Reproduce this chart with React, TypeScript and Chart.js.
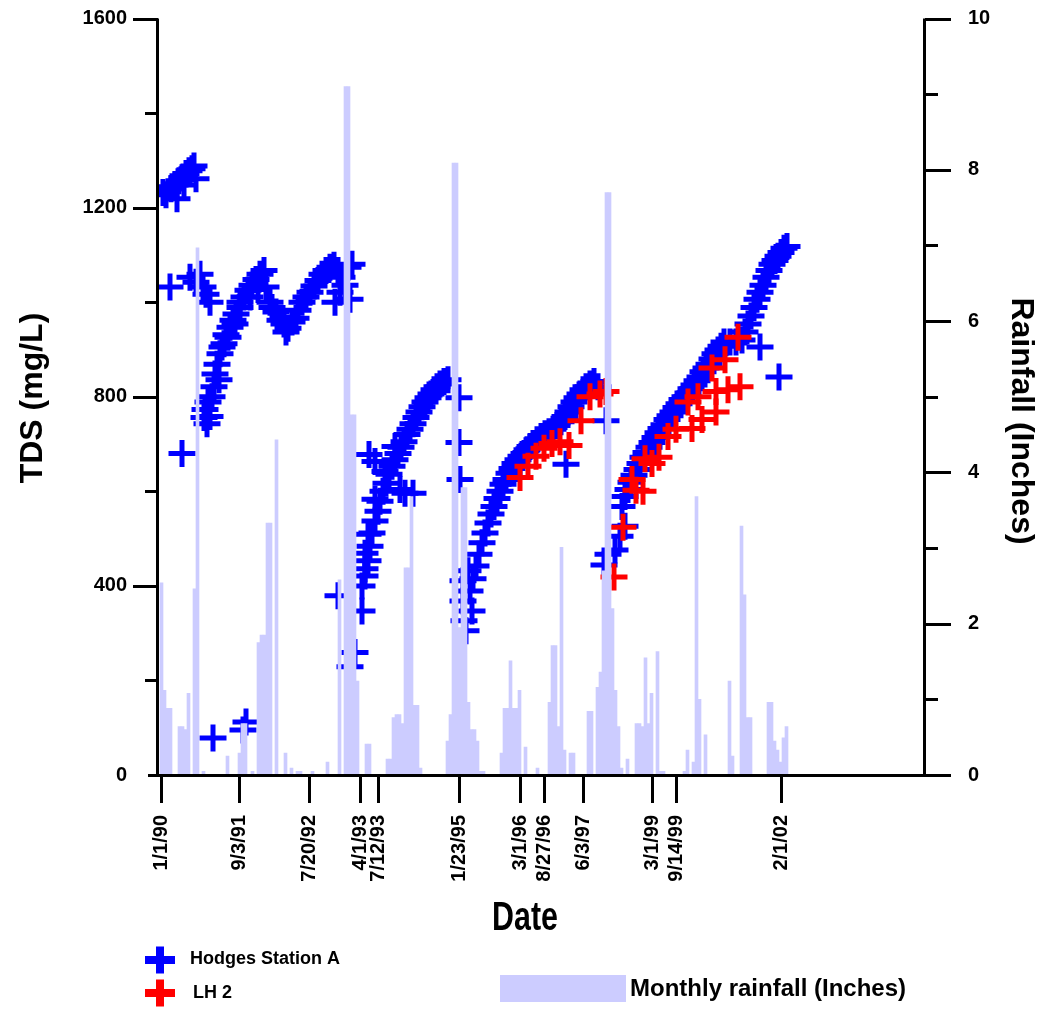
import React, { useEffect, useRef } from 'react';
import { Chart, registerables } from 'chart.js';

Chart.register(...registerables);

// X axis: position along the date axis (plot-width units, 0 = left of plot)
const xTickPos = [1, 79, 149, 200, 218, 299, 360, 384, 423, 492, 516, 621];
const xTickLabels = ['1/1/90', '9/3/91', '7/20/92', '4/1/93', '7/12/93', '1/23/95', '3/1/96', '8/27/96', '6/3/97', '3/1/99', '9/14/99', '2/1/02'];

const tdsTicks = [0, 400, 800, 1200, 1600];
const tdsMinorTicks = [0, 200, 600, 1000, 1400];
const rainTicks = [0, 2, 4, 6, 8, 10];
const rainMinorTicks = [1, 3, 5, 7, 9];

// Monthly rainfall (inches)
const rainX = [1.5, 4.5, 7.5, 10.5, 19.5, 22.5, 25.5, 28.5, 34.5, 37.5, 43.5, 67.5, 79.5, 82.5, 85.5, 92.5, 98.5, 101.5, 104.5, 107.5, 110.5, 116.5, 125.5, 131.5, 137.5, 140.5, 152.5, 167.5, 179.5, 185.5, 188.5, 191.5, 194.5, 197.5, 206.5, 209.5, 227.5, 230.5, 233.5, 236.5, 239.5, 242.5, 245.5, 248.5, 251.5, 254.5, 257.5, 260.5, 287.5, 290.5, 293.5, 296.5, 299.5, 302.5, 305.5, 308.5, 311.5, 314.5, 317.5, 320.5, 323.5, 341.5, 344.5, 347.5, 350.5, 353.5, 356.5, 359.5, 365.5, 377.5, 389.5, 392.5, 395.5, 398.5, 401.5, 404.5, 410.5, 413.5, 428.5, 431.5, 437.5, 440.5, 443.5, 446.5, 449.5, 452.5, 455.5, 458.5, 461.5, 467.5, 476.5, 479.5, 482.5, 485.5, 488.5, 491.5, 497.5, 500.5, 503.5, 524.5, 527.5, 533.5, 536.5, 539.5, 545.5, 569.5, 572.5, 581.5, 584.5, 587.5, 590.5, 608.5, 611.5, 614.5, 617.5, 620.5, 623.5, 626.5];
const rainIn = [2.54, 1.12, 0.88, 0.88, 0.64, 0.64, 0.6, 1.08, 2.46, 6.97, 0.05, 0.25, 0.29, 0.68, 0.68, 0.05, 1.75, 1.85, 1.85, 3.33, 3.33, 4.43, 0.29, 0.09, 0.05, 0.05, 0.05, 0.17, 2.58, 9.1, 9.1, 4.76, 4.76, 1.24, 0.41, 0.41, 0.21, 0.21, 0.76, 0.8, 0.8, 0.68, 2.74, 2.74, 3.68, 0.92, 0.92, 0.09, 0.45, 0.8, 8.09, 8.09, 1.95, 3.8, 3.8, 0.96, 0.6, 0.6, 0.45, 0.05, 0.05, 0.29, 0.88, 0.88, 1.51, 0.88, 0.88, 1.12, 0.37, 0.09, 0.96, 1.71, 1.71, 0.64, 3.01, 0.33, 0.29, 0.29, 0.84, 0.84, 1.16, 1.36, 2.7, 7.7, 7.7, 2.2, 1.12, 0.64, 0.09, 0.21, 0.68, 0.68, 0.64, 1.55, 0.68, 1.08, 1.63, 0.05, 0.05, 0.05, 0.33, 0.17, 3.68, 1.0, 0.53, 1.24, 0.25, 3.29, 2.38, 0.76, 0.76, 0.96, 0.96, 0.45, 0.33, 0.17, 0.49, 0.64];

// Hodges Station A TDS (mg/L)
const hodgesX = [3, 6, 11, 12, 15, 17, 19, 22, 24, 26, 29, 32, 34, 36,
  10, 30, 36, 40, 43, 46, 50, 22, 44, 45, 47, 48, 50, 52, 54, 55, 57, 59, 60, 62, 64, 66, 68, 70, 73, 75, 76, 80, 80, 84, 88, 90, 92, 96, 98, 100, 104, 106, 110, 112, 116, 120, 124, 126, 128, 132, 136, 138, 142, 146, 150, 154, 158, 162, 166, 170, 174, 175, 178, 180, 182, 185, 188, 190, 192,
  53, 83, 86,
  178, 190, 195, 202, 205, 209, 215,
  202, 205, 205, 208, 208, 210, 212, 215, 215, 218, 220, 223, 225, 226, 229, 232, 235, 235, 238, 240, 241, 244, 245, 247, 250, 253, 253, 256, 259, 262, 265, 268, 271, 274, 277, 280, 284, 288, 299, 299, 300,
  303, 303, 304, 306, 308, 310, 312, 313, 316, 319, 322, 325, 328, 331, 334, 337, 340, 343, 346, 349, 352, 355, 358, 361, 364, 367, 370,
  373, 377, 381, 385, 389, 393, 397, 401, 405, 406, 408, 411, 414, 417, 420, 423, 426, 430, 434, 438, 446,
  444, 448, 455, 460, 462, 465, 465, 468, 471, 474, 477, 480, 483, 486, 489, 492, 495, 498, 501, 504, 507, 510, 513, 516, 519, 522, 525, 528, 531, 534, 537, 540, 543, 546, 549, 552, 555, 558, 561, 564, 570, 576, 582, 585, 588, 591, 594, 597, 600, 600, 603, 606, 609, 612, 615, 618, 619, 621, 624, 627];
const hodgesTDS = [1232, 1227, 1240, 1244, 1248, 1219, 1257, 1263, 1248, 1272, 1278, 1282, 1288, 1261,
  1032, 1053, 1042, 1059, 1032, 1017, 1000, 680, 756, 773, 743, 789, 758, 800, 821, 848, 869, 836, 891, 905, 912, 931, 926, 947, 962, 954, 975, 989, 1000, 1011, 1025, 1011, 1036, 1048, 1027, 1059, 1067, 1032, 1000, 989, 979, 962, 954, 937, 945, 958, 966, 983, 1000, 1011, 1021, 1034, 1046, 1059, 1067, 1074, 1078, 1000, 1067, 1021, 1053, 1036, 1074, 1006, 1080,
  78, 95, 112,
  379, 229, 259, 347, 436, 678, 663,
  400, 421, 469, 453, 509, 484, 512, 537, 583, 558, 579, 600, 642, 617, 636, 653, 667, 695, 680, 604, 693, 705, 596, 720, 731, 743, 596, 756, 768, 779, 789, 798, 806, 815, 821, 827, 832, 836, 798, 703, 625,
  368, 411, 326, 305, 432, 389, 347, 415, 442, 467, 491, 512, 533, 552, 568, 585, 600, 615, 625, 638, 648, 659, 667, 674, 680, 688, 695,
  701, 709, 716, 722, 726, 731, 739, 747, 758, 657, 768, 779, 789, 798, 806, 815, 821, 827, 832, 821, 749,
  444, 467, 476, 505, 568, 526, 589, 604, 619, 634, 646, 659, 672, 682, 693, 703, 714, 724, 733, 741, 752, 760, 768, 777, 785, 794, 800, 808, 817, 825, 834, 842, 853, 861, 869, 880, 891, 899, 907, 916, 916, 916, 920, 937, 954, 971, 989, 1006, 905, 1021, 1036, 1053, 1067, 1080, 1088, 1097, 842, 1105, 1114, 1118];

// LH 2 TDS (mg/L)
const lh2X = [360, 368, 376, 384, 392, 400, 409, 421, 430, 440, 446, 454, 463, 472, 476, 483, 485, 492, 499, 508, 516, 528, 532, 538, 542, 552, 556, 556, 565, 568, 578, 580];
const lh2TDS = [629, 653, 674, 691, 701, 705, 697, 749, 800, 806, 811, 419, 524, 625, 602, 600, 669, 659, 672, 716, 731, 789, 733, 800, 752, 861, 768, 811, 878, 815, 926, 821];

const FONT = "'Liberation Sans', Arial, Helvetica, sans-serif";
const BLUE = '#0000ff';
const RED = '#ff0000';
const RAIN = '#ccccff';

const decorPlugin = {
  id: 'decor',
  afterDraw(chart: any) {
    const ctx = chart.ctx as CanvasRenderingContext2D;
    const { left, right, top, bottom } = chart.chartArea;
    const xs = chart.scales.x;
    const ys = chart.scales.y;
    const y1 = chart.scales.y1;
    ctx.save();
    ctx.strokeStyle = '#000';
    ctx.lineWidth = 3;
    ctx.lineCap = 'butt';
    ctx.beginPath();
    // axis lines
    ctx.moveTo(left - 0.5, top);
    ctx.lineTo(left - 0.5, bottom + 1);
    ctx.moveTo(left - 2, bottom + 0.5);
    ctx.lineTo(right + 1, bottom + 0.5);
    ctx.moveTo(right - 0.5, top);
    ctx.lineTo(right - 0.5, bottom + 1);
    // left ticks
    tdsTicks.forEach((v) => {
      const p = Math.round(ys.getPixelForValue(v)) + 0.5;
      if (v === 0) return;
      ctx.moveTo(left - 25, p);
      ctx.lineTo(left, p);
    });
    tdsMinorTicks.forEach((v) => {
      const p = Math.round(ys.getPixelForValue(v)) + 0.5;
      ctx.moveTo(left - (v === 0 ? 10 : 13), p);
      ctx.lineTo(left, p);
    });
    // right ticks
    rainTicks.forEach((v) => {
      const p = Math.round(y1.getPixelForValue(v)) + 0.5;
      ctx.moveTo(right, p);
      ctx.lineTo(right + 26, p);
    });
    rainMinorTicks.forEach((v) => {
      const p = Math.round(y1.getPixelForValue(v)) + 0.5;
      ctx.moveTo(right, p);
      ctx.lineTo(right + 13, p);
    });
    // x ticks
    xTickPos.forEach((v) => {
      const p = Math.round(xs.getPixelForValue(v)) + 0.5;
      ctx.moveTo(p, bottom);
      ctx.lineTo(p, bottom + 28);
    });
    ctx.stroke();

    // axis titles
    ctx.fillStyle = '#000';
    ctx.textAlign = 'center';
    ctx.textBaseline = 'middle';
    ctx.font = `bold 32px ${FONT}`;
    ctx.save();
    ctx.translate(33, 398);
    ctx.rotate(-Math.PI / 2);
    ctx.fillText('TDS (mg/L)', 0, 0);
    ctx.restore();
    ctx.save();
    ctx.translate(1021, 421);
    ctx.rotate(Math.PI / 2);
    ctx.fillText('Rainfall (Inches)', 0, 0);
    ctx.restore();
    ctx.save();
    ctx.translate(525, 919);
    ctx.scale(0.74, 1);
    ctx.font = `bold 41px ${FONT}`;
    ctx.fillText('Date', 0, 0);
    ctx.restore();

    // legend
    const cross = (cx: number, cy: number, color: string) => {
      ctx.strokeStyle = color;
      ctx.lineWidth = 8;
      ctx.beginPath();
      ctx.moveTo(cx - 15, cy);
      ctx.lineTo(cx + 15, cy);
      ctx.moveTo(cx, cy - 13.5);
      ctx.lineTo(cx, cy + 13.5);
      ctx.stroke();
    };
    cross(160, 960, BLUE);
    cross(160, 993, RED);
    ctx.textAlign = 'left';
    ctx.font = `bold 18px ${FONT}`;
    ctx.fillText('Hodges Station A', 190, 959);
    ctx.fillText('LH 2', 193, 993);
    ctx.fillStyle = RAIN;
    ctx.fillRect(500, 975, 126, 27);
    ctx.fillStyle = '#000';
    ctx.font = `bold 24px ${FONT}`;
    ctx.fillText('Monthly rainfall (Inches)', 630, 989);
    ctx.restore();
  },
};

const hiddenGrid = (len: number) => ({
  display: true,
  drawOnChartArea: false,
  drawTicks: true,
  tickLength: len,
  color: 'rgba(0,0,0,0)',
});

export default function App() {
  const ref = useRef<HTMLCanvasElement>(null);
  useEffect(() => {
    if (!ref.current) return;
    const tickFont = { family: FONT, size: 20, weight: 'bold' as const };
    const chart = new Chart(ref.current, {
      type: 'scatter',
      data: {
        datasets: [
          {
            type: 'bar',
            label: 'Monthly rainfall (Inches)',
            data: rainX.map((x, i) => ({ x, y: rainIn[i] })),
            backgroundColor: RAIN,
            borderWidth: 0,
            barThickness: 3,
            grouped: false,
            xAxisID: 'x',
            yAxisID: 'y1',
            order: 0,
          } as any,
          {
            type: 'scatter',
            label: 'LH 2',
            data: lh2X.map((x, i) => ({ x, y: lh2TDS[i] })),
            pointStyle: 'cross',
            pointRadius: 13.5,
            pointBorderWidth: 5,
            pointBorderColor: RED,
            pointBackgroundColor: RED,
            xAxisID: 'x',
            yAxisID: 'y',
            order: 1,
          },
          {
            type: 'scatter',
            label: 'Hodges Station A',
            data: hodgesX.map((x, i) => ({ x, y: hodgesTDS[i] })),
            pointStyle: 'cross',
            pointRadius: 13.5,
            pointBorderWidth: 5,
            pointBorderColor: BLUE,
            pointBackgroundColor: BLUE,
            xAxisID: 'x',
            yAxisID: 'y',
            order: 2,
          },
        ],
      },
      options: {
        responsive: false,
        animation: false,
        events: [],
        layout: { padding: { top: 15, left: 0, right: 0, bottom: 0 } },
        plugins: { legend: { display: false }, tooltip: { enabled: false } },
        scales: {
          x: {
            type: 'linear',
            position: 'bottom',
            offset: false,
            min: -2,
            max: 765,
            grid: hiddenGrid(40),
            border: { display: false },
            afterBuildTicks: (s: any) => {
              s.ticks = xTickPos.map((v) => ({ value: v }));
            },
            afterFit: (s: any) => {
              s.height = 235;
            },
            ticks: {
              autoSkip: false,
              minRotation: 90,
              maxRotation: 90,
              padding: 0,
              color: '#000',
              font: tickFont,
              callback: (_v: any, i: number) => xTickLabels[i],
            },
          },
          y: {
            type: 'linear',
            position: 'left',
            min: 0,
            max: 1600,
            grid: hiddenGrid(31),
            border: { display: false },
            afterBuildTicks: (s: any) => {
              s.ticks = tdsTicks.map((v) => ({ value: v }));
            },
            afterFit: (s: any) => {
              s.width = 158;
            },
            ticks: { padding: 0, color: '#000', font: tickFont, callback: (v: any) => String(v) },
          },
          y1: {
            type: 'linear',
            position: 'right',
            min: 0,
            max: 10,
            grid: hiddenGrid(43),
            border: { display: false },
            afterBuildTicks: (s: any) => {
              s.ticks = rainTicks.map((v) => ({ value: v }));
            },
            afterFit: (s: any) => {
              s.width = 116;
            },
            ticks: { padding: 0, color: '#000', font: tickFont, callback: (v: any) => String(v) },
          },
        },
      } as any,
      plugins: [decorPlugin],
    });
    return () => chart.destroy();
  }, []);
  return (
    <div style={{ position: 'absolute', left: 0, top: 0, width: 1041, height: 1010, background: '#fff' }}>
      <canvas ref={ref} width={1041} height={1010} style={{ display: 'block' }} />
    </div>
  );
}
